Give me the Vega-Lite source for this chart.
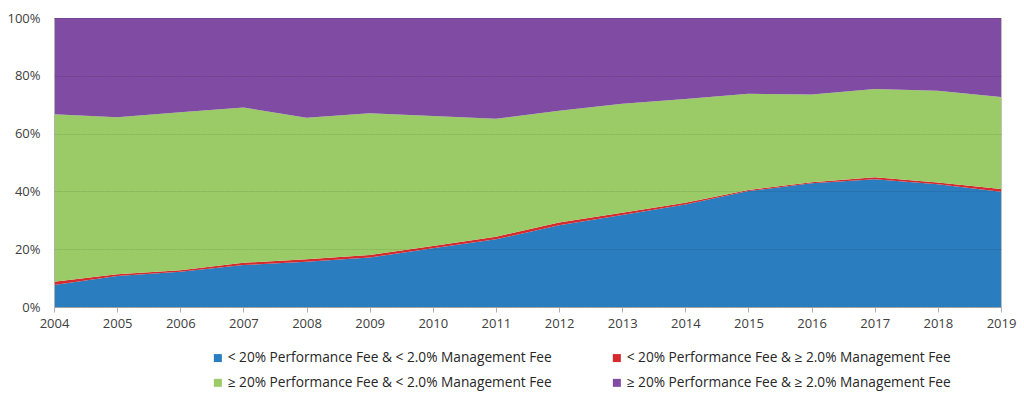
{
  "$schema": "https://vega.github.io/schema/vega-lite/v6.json",
  "width": 947,
  "height": 289,
  "autosize": "none",
  "padding": {"left": 54, "top": 18, "right": 23, "bottom": 89},
  "background": "white",
  "config": {
    "view": {"stroke": "#c0c0c0", "strokeWidth": 1},
    "font": "Open Sans"
  },
  "data": {
    "values": [
      {"year": 2004, "series": "< 20% Performance Fee & < 2.0% Management Fee", "value": 7.6},
      {"year": 2005, "series": "< 20% Performance Fee & < 2.0% Management Fee", "value": 10.7},
      {"year": 2006, "series": "< 20% Performance Fee & < 2.0% Management Fee", "value": 12.2},
      {"year": 2007, "series": "< 20% Performance Fee & < 2.0% Management Fee", "value": 14.5},
      {"year": 2008, "series": "< 20% Performance Fee & < 2.0% Management Fee", "value": 15.7},
      {"year": 2009, "series": "< 20% Performance Fee & < 2.0% Management Fee", "value": 17.1},
      {"year": 2010, "series": "< 20% Performance Fee & < 2.0% Management Fee", "value": 20.3},
      {"year": 2011, "series": "< 20% Performance Fee & < 2.0% Management Fee", "value": 23.4},
      {"year": 2012, "series": "< 20% Performance Fee & < 2.0% Management Fee", "value": 28.3},
      {"year": 2013, "series": "< 20% Performance Fee & < 2.0% Management Fee", "value": 31.8},
      {"year": 2014, "series": "< 20% Performance Fee & < 2.0% Management Fee", "value": 35.5},
      {"year": 2015, "series": "< 20% Performance Fee & < 2.0% Management Fee", "value": 40.1},
      {"year": 2016, "series": "< 20% Performance Fee & < 2.0% Management Fee", "value": 42.8},
      {"year": 2017, "series": "< 20% Performance Fee & < 2.0% Management Fee", "value": 44.2},
      {"year": 2018, "series": "< 20% Performance Fee & < 2.0% Management Fee", "value": 42.5},
      {"year": 2019, "series": "< 20% Performance Fee & < 2.0% Management Fee", "value": 39.9},
      {"year": 2004, "series": "< 20% Performance Fee & ≥ 2.0% Management Fee", "value": 1.1},
      {"year": 2005, "series": "< 20% Performance Fee & ≥ 2.0% Management Fee", "value": 0.6},
      {"year": 2006, "series": "< 20% Performance Fee & ≥ 2.0% Management Fee", "value": 0.5},
      {"year": 2007, "series": "< 20% Performance Fee & ≥ 2.0% Management Fee", "value": 0.8},
      {"year": 2008, "series": "< 20% Performance Fee & ≥ 2.0% Management Fee", "value": 0.8},
      {"year": 2009, "series": "< 20% Performance Fee & ≥ 2.0% Management Fee", "value": 0.9},
      {"year": 2010, "series": "< 20% Performance Fee & ≥ 2.0% Management Fee", "value": 0.8},
      {"year": 2011, "series": "< 20% Performance Fee & ≥ 2.0% Management Fee", "value": 0.9},
      {"year": 2012, "series": "< 20% Performance Fee & ≥ 2.0% Management Fee", "value": 0.9},
      {"year": 2013, "series": "< 20% Performance Fee & ≥ 2.0% Management Fee", "value": 0.8},
      {"year": 2014, "series": "< 20% Performance Fee & ≥ 2.0% Management Fee", "value": 0.6},
      {"year": 2015, "series": "< 20% Performance Fee & ≥ 2.0% Management Fee", "value": 0.4},
      {"year": 2016, "series": "< 20% Performance Fee & ≥ 2.0% Management Fee", "value": 0.4},
      {"year": 2017, "series": "< 20% Performance Fee & ≥ 2.0% Management Fee", "value": 0.7},
      {"year": 2018, "series": "< 20% Performance Fee & ≥ 2.0% Management Fee", "value": 0.6},
      {"year": 2019, "series": "< 20% Performance Fee & ≥ 2.0% Management Fee", "value": 0.9},
      {"year": 2004, "series": "≥ 20% Performance Fee & < 2.0% Management Fee", "value": 58.0},
      {"year": 2005, "series": "≥ 20% Performance Fee & < 2.0% Management Fee", "value": 54.4},
      {"year": 2006, "series": "≥ 20% Performance Fee & < 2.0% Management Fee", "value": 54.7},
      {"year": 2007, "series": "≥ 20% Performance Fee & < 2.0% Management Fee", "value": 53.7},
      {"year": 2008, "series": "≥ 20% Performance Fee & < 2.0% Management Fee", "value": 49.0},
      {"year": 2009, "series": "≥ 20% Performance Fee & < 2.0% Management Fee", "value": 49.0},
      {"year": 2010, "series": "≥ 20% Performance Fee & < 2.0% Management Fee", "value": 45.0},
      {"year": 2011, "series": "≥ 20% Performance Fee & < 2.0% Management Fee", "value": 40.8},
      {"year": 2012, "series": "≥ 20% Performance Fee & < 2.0% Management Fee", "value": 38.7},
      {"year": 2013, "series": "≥ 20% Performance Fee & < 2.0% Management Fee", "value": 37.7},
      {"year": 2014, "series": "≥ 20% Performance Fee & < 2.0% Management Fee", "value": 35.9},
      {"year": 2015, "series": "≥ 20% Performance Fee & < 2.0% Management Fee", "value": 33.3},
      {"year": 2016, "series": "≥ 20% Performance Fee & < 2.0% Management Fee", "value": 30.3},
      {"year": 2017, "series": "≥ 20% Performance Fee & < 2.0% Management Fee", "value": 30.5},
      {"year": 2018, "series": "≥ 20% Performance Fee & < 2.0% Management Fee", "value": 31.7},
      {"year": 2019, "series": "≥ 20% Performance Fee & < 2.0% Management Fee", "value": 31.9},
      {"year": 2004, "series": "≥ 20% Performance Fee & ≥ 2.0% Management Fee", "value": 33.3},
      {"year": 2005, "series": "≥ 20% Performance Fee & ≥ 2.0% Management Fee", "value": 34.3},
      {"year": 2006, "series": "≥ 20% Performance Fee & ≥ 2.0% Management Fee", "value": 32.6},
      {"year": 2007, "series": "≥ 20% Performance Fee & ≥ 2.0% Management Fee", "value": 31.0},
      {"year": 2008, "series": "≥ 20% Performance Fee & ≥ 2.0% Management Fee", "value": 34.5},
      {"year": 2009, "series": "≥ 20% Performance Fee & ≥ 2.0% Management Fee", "value": 33.0},
      {"year": 2010, "series": "≥ 20% Performance Fee & ≥ 2.0% Management Fee", "value": 33.9},
      {"year": 2011, "series": "≥ 20% Performance Fee & ≥ 2.0% Management Fee", "value": 34.9},
      {"year": 2012, "series": "≥ 20% Performance Fee & ≥ 2.0% Management Fee", "value": 32.1},
      {"year": 2013, "series": "≥ 20% Performance Fee & ≥ 2.0% Management Fee", "value": 29.7},
      {"year": 2014, "series": "≥ 20% Performance Fee & ≥ 2.0% Management Fee", "value": 28.0},
      {"year": 2015, "series": "≥ 20% Performance Fee & ≥ 2.0% Management Fee", "value": 26.2},
      {"year": 2016, "series": "≥ 20% Performance Fee & ≥ 2.0% Management Fee", "value": 26.5},
      {"year": 2017, "series": "≥ 20% Performance Fee & ≥ 2.0% Management Fee", "value": 24.6},
      {"year": 2018, "series": "≥ 20% Performance Fee & ≥ 2.0% Management Fee", "value": 25.2},
      {"year": 2019, "series": "≥ 20% Performance Fee & ≥ 2.0% Management Fee", "value": 27.3}
    ]
  },
  "mark": {"type": "area", "opacity": 1},
  "encoding": {
    "x": {
      "field": "year",
      "type": "quantitative",
      "scale": {"domain": [2004, 2019], "nice": false, "zero": false},
      "axis": {
        "values": [2004, 2005, 2006, 2007, 2008, 2009, 2010, 2011, 2012, 2013, 2014, 2015, 2016, 2017, 2018, 2019],
        "format": "d",
        "title": null,
        "grid": false,
        "labelFlush": false,
        "labelOverlap": false,
        "domainColor": "#b0b0b0",
        "tickColor": "#b0b0b0",
        "tickSize": 5,
        "labelPadding": 5,
        "labelFontSize": 13,
        "labelColor": "#404040",
        "labelFont": "Open Sans"
      }
    },
    "y": {
      "field": "value",
      "type": "quantitative",
      "stack": "zero",
      "scale": {"domain": [0, 100], "nice": false},
      "axis": {
        "values": [0, 20, 40, 60, 80, 100],
        "labelExpr": "datum.value + '%'",
        "title": null,
        "ticks": false,
        "labelPadding": 14,
        "domainColor": "#b0b0b0",
        "gridColor": "#000000",
        "gridOpacity": 0.12,
        "gridDash": [2, 1],
        "zindex": 1,
        "labelFontSize": 13,
        "labelColor": "#404040",
        "labelFont": "Open Sans"
      }
    },
    "order": {"field": "series", "sort": "ascending"},
    "color": {
      "field": "series",
      "type": "nominal",
      "scale": {
        "domain": [
          "< 20% Performance Fee & < 2.0% Management Fee",
          "< 20% Performance Fee & ≥ 2.0% Management Fee",
          "≥ 20% Performance Fee & < 2.0% Management Fee",
          "≥ 20% Performance Fee & ≥ 2.0% Management Fee"
        ],
        "range": ["#2a7dbf", "#d42a2e", "#9bcb66", "#7f4ba3"]
      },
      "legend": {
        "title": null,
        "orient": "none",
        "direction": "horizontal",
        "legendX": 157,
        "legendY": 333,
        "columns": 2,
        "columnPadding": 58,
        "rowPadding": 10,
        "symbolType": "square",
        "symbolSize": 64,
        "symbolStrokeWidth": 0,
        "symbolOpacity": 1,
        "labelFontSize": 13.7,
        "labelColor": "#262626",
        "labelFont": "Open Sans",
        "labelLimit": 500,
        "labelOffset": 3
      }
    }
  }
}
